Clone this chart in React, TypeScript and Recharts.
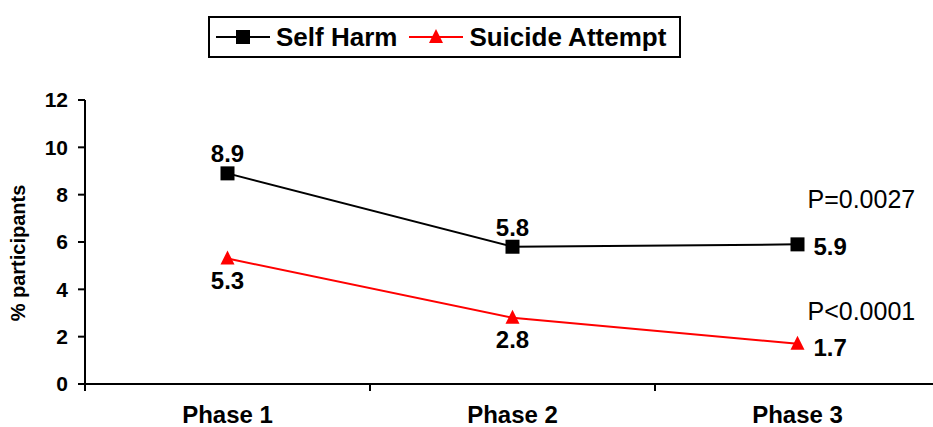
import { Line, LineChart, XAxis, YAxis } from "recharts";

const PHASES = ["Phase 1", "Phase 2", "Phase 3"];
const SELF_HARM = [8.9, 5.8, 5.9];
const SUICIDE_ATTEMPT = [5.3, 2.8, 1.7];
const Y_TICKS = [0, 2, 4, 6, 8, 10, 12];
const P_SELF_HARM = "P=0.0027";
const P_SUICIDE = "P<0.0001";

const data = PHASES.map((phase, i) => ({
  phase,
  selfHarm: SELF_HARM[i],
  suicide: SUICIDE_ATTEMPT[i]
}));

const FONT = "'Liberation Sans', Arial, sans-serif";
const CHART_W = 940;
const CHART_H = 427;
const Y_AXIS_W = 60;
const X_AXIS_H = 30;
// plot area: x 85..940, y 100..384
const MARGIN = { top: 100, right: 0, bottom: 43 - X_AXIS_H, left: 85 - Y_AXIS_W };
const BAND = (CHART_W - 85) / PHASES.length;
const AXIS_Y = 384;

function SquareDot({ cx, cy }: any) {
  if (cx == null || cy == null) return null;
  return <rect x={cx - 7} y={cy - 7} width={14} height={14} fill="#000" />;
}

function TriangleDot({ cx, cy }: any) {
  if (cx == null || cy == null) return null;
  return <polygon points={`${cx},${cy - 8} ${cx + 7},${cy + 6} ${cx - 7},${cy + 6}`} fill="#ff0000" />;
}

function PhaseTick({ x, payload, index }: any) {
  const left = x - BAND / 2;
  return (
    <g>
      <line x1={left} x2={left} y1={AXIS_Y} y2={AXIS_Y + 7} stroke="#000" strokeWidth={2} />
      {index === PHASES.length - 1 && (
        <line x1={x + BAND / 2} x2={x + BAND / 2} y1={AXIS_Y} y2={AXIS_Y + 7} stroke="#000" strokeWidth={2} />
      )}
      <text x={x} y={AXIS_Y + 39} textAnchor="middle" fontFamily={FONT} fontWeight="bold" fontSize={24} fill="#000">
        {payload.value}
      </text>
    </g>
  );
}

function SelfHarmLabel({ x, y, value, index }: any) {
  const last = index === PHASES.length - 1;
  return (
    <g fontFamily={FONT} fill="#000">
      {last ? (
        <>
          <text x={x + 16} y={y + 11} fontWeight="bold" fontSize={24}>{value}</text>
          <text x={x + 10} y={y - 36} fontSize={25}>{P_SELF_HARM}</text>
        </>
      ) : (
        <text x={x} y={y - 11} textAnchor="middle" fontWeight="bold" fontSize={24}>{value}</text>
      )}
    </g>
  );
}

function SuicideLabel({ x, y, value, index }: any) {
  const last = index === PHASES.length - 1;
  return (
    <g fontFamily={FONT} fill="#000">
      {last ? (
        <>
          <text x={x + 16} y={y + 12} fontWeight="bold" fontSize={24}>{value}</text>
          <text x={x + 10} y={y - 24} fontSize={25}>{P_SUICIDE}</text>
        </>
      ) : (
        <text x={x} y={y + 30} textAnchor="middle" fontWeight="bold" fontSize={24}>{value}</text>
      )}
    </g>
  );
}

function YLabel() {
  return (
    <text
      transform="translate(25,253) rotate(-90)"
      textAnchor="middle"
      fontFamily={FONT}
      fontWeight="bold"
      fontSize={20}
      fill="#000"
    >
      % participants
    </text>
  );
}

function LegendBox() {
  return (
    <div
      style={{
        position: "absolute",
        left: 208,
        top: 16,
        display: "flex",
        alignItems: "center",
        border: "2px solid #000",
        height: 42,
        width: 473,
        boxSizing: "border-box",
        fontFamily: FONT,
        fontWeight: "bold",
        fontSize: 26,
        color: "#000",
        background: "#fff"
      }}
    >
      <svg width={54} height={20} style={{ marginLeft: 6 }}>
        <line x1={0} x2={54} y1={10} y2={10} stroke="#000" strokeWidth={2} />
        <rect x={20} y={3} width={14} height={14} fill="#000" />
      </svg>
      <span style={{ marginLeft: 6 }}>Self Harm</span>
      <svg width={54} height={20} style={{ marginLeft: 12 }}>
        <line x1={0} x2={54} y1={10} y2={10} stroke="#ff0000" strokeWidth={2} />
        <polygon points="27,2 34,16 20,16" fill="#ff0000" />
      </svg>
      <span style={{ marginLeft: 6 }}>Suicide Attempt</span>
    </div>
  );
}

export default function App() {
  return (
    <div style={{ position: "absolute", left: 0, top: 0, width: 933, height: CHART_H, overflow: "hidden", background: "#fff" }}>
      <LineChart width={CHART_W} height={CHART_H} data={data} margin={MARGIN}>
        <XAxis
          dataKey="phase"
          height={X_AXIS_H}
          padding={{ left: BAND / 2, right: BAND / 2 }}
          axisLine={{ stroke: "#000", strokeWidth: 2 }}
          tickLine={false}
          tick={<PhaseTick />}
          interval={0}
        />
        <YAxis
          width={Y_AXIS_W}
          domain={[0, 12]}
          ticks={Y_TICKS}
          interval={0}
          axisLine={{ stroke: "#000", strokeWidth: 2 }}
          tickLine={{ stroke: "#000", strokeWidth: 2 }}
          tickSize={7}
          tickMargin={10}
          tick={{ fill: "#000", fontFamily: FONT, fontWeight: "bold", fontSize: 21 }}
          label={{ content: <YLabel /> }}
        />
        <Line
          dataKey="selfHarm"
          name="Self Harm"
          stroke="#000"
          strokeWidth={2}
          dot={<SquareDot />}
          activeDot={false}
          label={<SelfHarmLabel />}
          isAnimationActive={false}
        />
        <Line
          dataKey="suicide"
          name="Suicide Attempt"
          stroke="#ff0000"
          strokeWidth={2}
          dot={<TriangleDot />}
          activeDot={false}
          label={<SuicideLabel />}
          isAnimationActive={false}
        />
      </LineChart>
      <LegendBox />
    </div>
  );
}
